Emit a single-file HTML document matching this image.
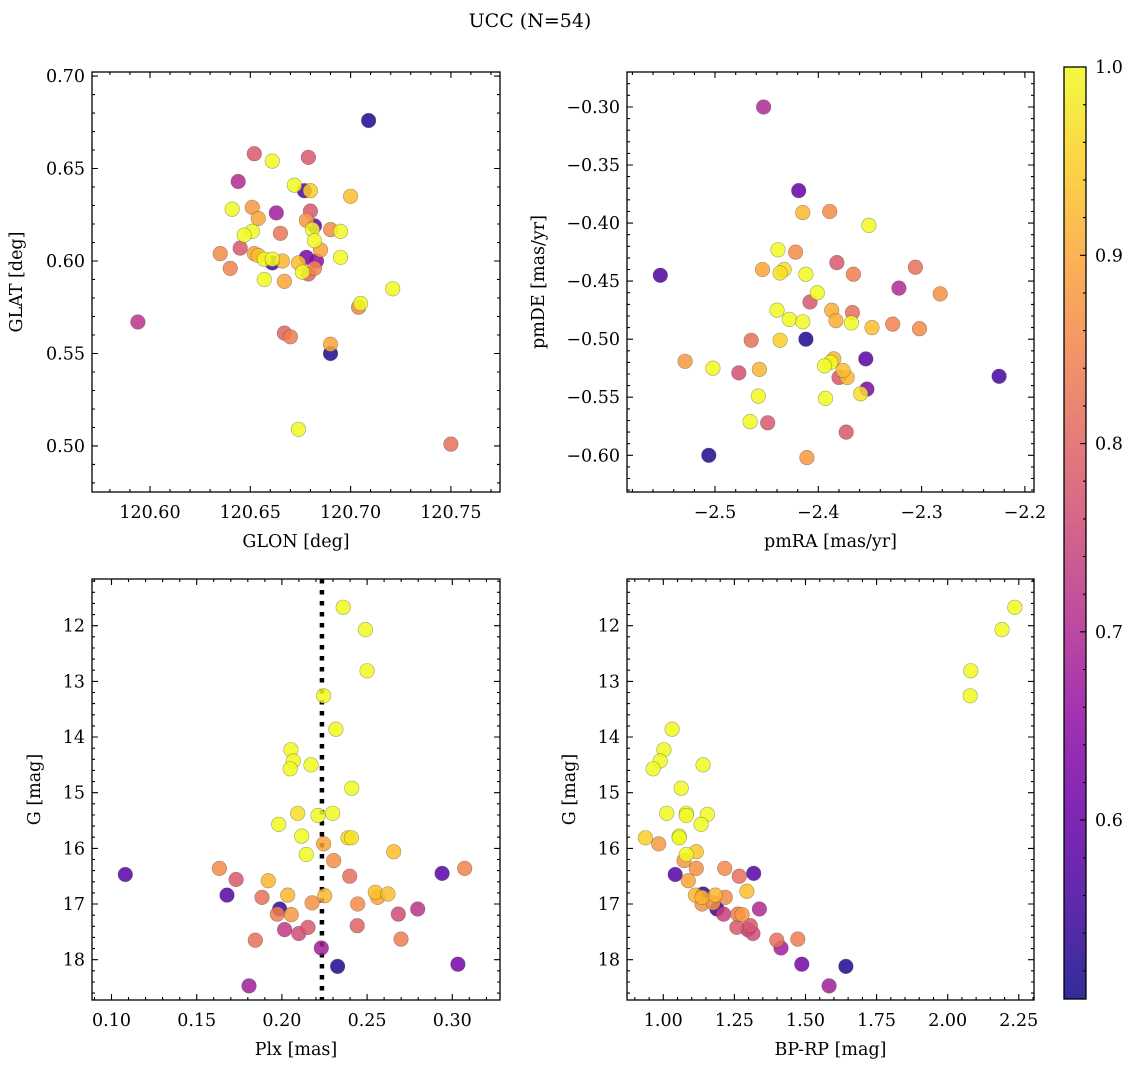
<!DOCTYPE html>
<html><head><meta charset="utf-8"><style>
html,body{margin:0;padding:0;background:#fff;}
svg{display:block;font-family:"DejaVu Serif","Liberation Serif",serif;}
</style></head><body>
<svg id="fig" width="1136" height="1067" viewBox="0 0 1136 1067" xmlns="http://www.w3.org/2000/svg">
<rect width="1136" height="1067" fill="#fff"/>
<text x="530" y="27" font-size="19" text-anchor="middle">UCC (N=54)</text>
</svg>
<script>
// ---- Panel 1: GLON vs GLAT ----
const p1Glon=[120.709,120.652,120.661,120.679,120.644,120.672,120.677,120.680,120.700,120.641,120.651,120.654,120.663,120.680,120.678,120.682,120.681,120.690,120.695,120.665,120.651,120.647,120.682,120.685,120.645,120.635,120.652,120.654,120.657,120.661,120.661,120.666,120.674,120.678,120.683,120.695,120.640,120.682,120.679,120.676,120.657,120.667,120.721,120.705,120.704,120.594,120.667,120.670,120.690,120.690,120.674,120.750];
const p1Glat=[0.676,0.658,0.654,0.656,0.643,0.641,0.638,0.638,0.635,0.628,0.629,0.623,0.626,0.627,0.622,0.619,0.617,0.617,0.616,0.615,0.616,0.614,0.611,0.606,0.607,0.604,0.604,0.603,0.601,0.599,0.601,0.600,0.599,0.602,0.600,0.602,0.596,0.596,0.593,0.594,0.590,0.589,0.585,0.577,0.575,0.567,0.561,0.559,0.555,0.550,0.509,0.501];
const p1Prob=[0.52,0.78,1.0,0.78,0.70,1.0,0.58,0.95,0.93,1.0,0.88,0.90,0.68,0.78,0.88,0.60,1.0,0.86,1.0,0.83,1.0,1.0,1.0,0.90,0.78,0.86,0.90,0.93,1.0,0.56,1.0,0.92,0.93,0.62,0.65,1.0,0.85,0.85,0.80,1.0,1.0,0.90,1.0,1.0,0.85,0.72,0.80,0.84,0.90,0.52,1.0,0.82];
// ---- Panel 2: pmRA vs pmDE ----
const p2Pmra=[-2.453,-2.419,-2.415,-2.389,-2.351,-2.439,-2.422,-2.553,-2.454,-2.433,-2.437,-2.412,-2.382,-2.366,-2.306,-2.322,-2.282,-2.401,-2.408,-2.440,-2.428,-2.415,-2.387,-2.367,-2.383,-2.368,-2.348,-2.328,-2.302,-2.465,-2.437,-2.412,-2.354,-2.529,-2.502,-2.477,-2.457,-2.385,-2.388,-2.394,-2.376,-2.380,-2.372,-2.225,-2.353,-2.359,-2.458,-2.393,-2.466,-2.449,-2.373,-2.506,-2.411];
const p2Pmde=[-0.300,-0.372,-0.391,-0.390,-0.402,-0.423,-0.425,-0.445,-0.440,-0.440,-0.443,-0.444,-0.434,-0.444,-0.438,-0.456,-0.461,-0.460,-0.468,-0.475,-0.483,-0.485,-0.475,-0.477,-0.484,-0.486,-0.490,-0.487,-0.491,-0.501,-0.501,-0.500,-0.517,-0.519,-0.525,-0.529,-0.526,-0.517,-0.520,-0.523,-0.527,-0.533,-0.533,-0.532,-0.543,-0.547,-0.549,-0.551,-0.571,-0.572,-0.580,-0.600,-0.602];
const p2Prob=[0.70,0.60,0.92,0.86,1.0,1.0,0.86,0.57,0.90,0.97,0.97,1.0,0.78,0.84,0.82,0.70,0.87,1.0,0.78,1.0,1.0,1.0,0.91,0.82,0.91,1.0,0.93,0.85,0.86,0.82,0.95,0.52,0.58,0.88,1.0,0.77,0.92,0.92,1.0,1.0,0.93,0.78,0.92,0.56,0.63,0.97,1.0,1.0,1.0,0.78,0.78,0.52,0.88];
// ---- Panel 3: Plx vs G ----
const p3Plx=[0.236,0.249,0.250,0.2245,0.2317,0.2053,0.2067,0.2049,0.2171,0.241,0.2093,0.2212,0.2298,0.1981,0.2116,0.2388,0.2408,0.2245,0.2143,0.2656,0.2304,0.1633,0.1081,0.1731,0.2398,0.294,0.3073,0.192,0.1678,0.1883,0.2034,0.2251,0.2177,0.2548,0.2562,0.2623,0.2445,0.1987,0.1973,0.2055,0.2797,0.2683,0.2442,0.2016,0.2099,0.2153,0.1844,0.2699,0.2231,0.2327,0.3033,0.1807];
const p3G=[11.67,12.07,12.81,13.26,13.86,14.23,14.43,14.57,14.50,14.92,15.37,15.41,15.37,15.57,15.78,15.81,15.81,15.92,16.11,16.06,16.22,16.36,16.47,16.56,16.50,16.45,16.36,16.58,16.84,16.88,16.84,16.85,16.98,16.79,16.88,16.82,17.00,17.09,17.18,17.19,17.09,17.18,17.39,17.46,17.53,17.42,17.65,17.63,17.79,18.12,18.08,18.47];
const p3Prob=[1.0,1.0,1.0,1.0,1.0,1.0,1.0,1.0,1.0,1.0,0.97,1.0,1.0,1.0,1.0,0.96,0.97,0.90,1.0,0.93,0.87,0.86,0.58,0.78,0.82,0.58,0.85,0.92,0.58,0.82,0.92,0.92,0.87,0.93,0.90,0.93,0.86,0.54,0.84,0.88,0.72,0.76,0.80,0.73,0.76,0.78,0.82,0.84,0.68,0.52,0.62,0.68];
const plxLine=0.2235;
// ---- Panel 4: BP-RP vs G ----
const p4Bprp=[2.236,2.191,2.081,2.079,1.031,1.002,0.989,0.964,1.140,1.063,1.012,1.081,1.081,1.155,1.133,0.937,1.056,1.056,0.984,1.116,1.081,1.073,1.116,1.216,1.042,1.267,1.318,1.088,1.294,1.113,1.140,1.136,1.183,1.218,1.136,1.175,1.189,1.212,1.262,1.277,1.338,1.259,1.306,1.297,1.315,1.399,1.473,1.414,1.487,1.642,1.583];
const p4G=[11.67,12.07,12.81,13.26,13.86,14.23,14.43,14.57,14.50,14.92,15.37,15.37,15.41,15.39,15.57,15.81,15.78,15.81,15.92,16.06,16.11,16.22,16.36,16.36,16.47,16.50,16.45,16.58,16.77,16.84,16.82,16.88,16.84,16.88,17.00,16.98,17.09,17.18,17.18,17.19,17.09,17.42,17.39,17.46,17.53,17.65,17.63,17.79,18.08,18.12,18.47];
const p4Prob=[1.0,1.0,1.0,1.0,1.0,1.0,1.0,1.0,1.0,1.0,1.0,1.0,1.0,1.0,1.0,0.95,1.0,1.0,0.88,0.94,1.0,0.88,0.87,0.86,0.58,0.82,0.58,0.90,0.93,0.92,0.54,0.92,0.92,0.86,0.87,0.87,0.54,0.74,0.84,0.88,0.70,0.78,0.78,0.74,0.76,0.82,0.84,0.68,0.62,0.52,0.68];
// ---- ticks ----
const p1XTicks=[120.60,120.65,120.70,120.75];
const p1XLabels=["120.60","120.65","120.70","120.75"];
const p1YTicks=[0.50,0.55,0.60,0.65,0.70];
const p1YLabels=["0.50","0.55","0.60","0.65","0.70"];
const p2XTicks=[-2.5,-2.4,-2.3,-2.2];
const p2XLabels=["\u22122.5","\u22122.4","\u22122.3","\u22122.2"];
const p2YTicks=[-0.60,-0.55,-0.50,-0.45,-0.40,-0.35,-0.30];
const p2YLabels=["\u22120.60","\u22120.55","\u22120.50","\u22120.45","\u22120.40","\u22120.35","\u22120.30"];
const p3XTicks=[0.10,0.15,0.20,0.25,0.30];
const p3XLabels=["0.10","0.15","0.20","0.25","0.30"];
const gTicks=[12,13,14,15,16,17,18];
const gLabels=["12","13","14","15","16","17","18"];
const p4XTicks=[1.00,1.25,1.50,1.75,2.00,2.25];
const p4XLabels=["1.00","1.25","1.50","1.75","2.00","2.25"];
const cbTicks=[0.6,0.7,0.8,0.9,1.0];
const cbLabels=["0.6","0.7","0.8","0.9","1.0"];
const VMIN=0.505, VMAX=1.0;

const NS="http://www.w3.org/2000/svg";
const svg=document.getElementById('fig');
const FS=17.5;
function mk(tag,attrs,parent){const e=document.createElementNS(NS,tag);for(const k in attrs)e.setAttribute(k,attrs[k]);(parent||svg).appendChild(e);return e;}
const plasma=[[13,8,135],[65,4,157],[106,0,168],[143,13,164],[177,42,144],[204,71,120],[225,100,98],[242,132,75],[252,166,54],[252,206,37],[240,249,33]];
function cmap(v){let t=(v-VMIN)/(VMAX-VMIN);t=Math.max(0,Math.min(1,t));const f=t*10;const i=Math.min(9,Math.floor(f));const r=f-i;const a=plasma[i],b=plasma[i+1];
 return `rgb(${Math.round(a[0]+(b[0]-a[0])*r)},${Math.round(a[1]+(b[1]-a[1])*r)},${Math.round(a[2]+(b[2]-a[2])*r)})`;}

function panel(cfg){
 const g=mk('g',{});
 
 
 const {x0,x1,y0,y1,xmin,xmax,ymin,ymax,invY}=cfg;
 const sx=v=>x0+(v-xmin)/(xmax-xmin)*(x1-x0);
 const sy=v=>invY? y0+(v-ymin)/(ymax-ymin)*(y1-y0) : y1-(v-ymin)/(ymax-ymin)*(y1-y0);
 const minorX=[];for(let v=Math.ceil(xmin/cfg.xMinor)*cfg.xMinor;v<=xmax;v+=cfg.xMinor)minorX.push(v);
 const minorY=[];for(let v=Math.ceil(ymin/cfg.yMinor)*cfg.yMinor;v<=ymax;v+=cfg.yMinor)minorY.push(v);
 let d='';
 minorX.forEach(v=>{const x=sx(v).toFixed(1);d+=`M${x} ${y1}v-3M${x} ${y0}v3`;});
 minorY.forEach(v=>{const y=sy(v).toFixed(1);d+=`M${x0} ${y}h3M${x1} ${y}h-3`;});
 cfg.xTicks.forEach(v=>{const x=sx(v).toFixed(1);d+=`M${x} ${y1}v-6M${x} ${y0}v6`;});
 cfg.yTicks.forEach(v=>{const y=sy(v).toFixed(1);d+=`M${x0} ${y}h6M${x1} ${y}h-6`;});
 const tk=mk('path',{d:d,stroke:'#000','stroke-width':1.1,fill:'none'},g);
 
 
 cfg.xTicks.forEach((v,i)=>{const t=mk('text',{x:sx(v),y:y1+26,'font-size':FS,'text-anchor':'middle'},g);t.textContent=cfg.xLabels[i];
  
  });
 cfg.yTicks.forEach((v,i)=>{const t=mk('text',{x:x0-7,y:sy(v)+6,'font-size':FS,'text-anchor':'end'},g);t.textContent=cfg.yLabels[i];
  
  });
 const xt=mk('text',{x:(x0+x1)/2,y:y1+55,'font-size':FS,'text-anchor':'middle'},g);xt.textContent=cfg.xTitle;
 
 
 const yt=mk('text',{x:0,y:0,'font-size':FS,'text-anchor':'middle',transform:`translate(${cfg.yTitleX},${(y0+y1)/2}) rotate(-90)`},g);yt.textContent=cfg.yTitle;
 
 
 if(cfg.vline!==undefined){const l=mk('line',{x1:sx(cfg.vline),x2:sx(cfg.vline),y1:y0,y2:y1,stroke:'#000','stroke-width':4.5,'stroke-dasharray':'4.5 6.5'},g);
  
  }
 const order=cfg.xs.map((_,i)=>i).sort((a,b)=>cfg.cs[a]-cfg.cs[b]);
 order.forEach(i=>{const c=mk('circle',{cx:sx(cfg.xs[i]).toFixed(1),cy:sy(cfg.ys[i]).toFixed(1),r:7.3,fill:cmap(cfg.cs[i]),'fill-opacity':0.85,stroke:'rgba(60,60,60,0.45)','stroke-width':0.6},g);
  
  });
 const fr=mk('rect',{x:x0,y:y0,width:x1-x0,height:y1-y0,fill:'none',stroke:'#000','stroke-width':1.3},g);
 
 
}
panel({name:'glon-glat-panel',x0:92,x1:500,y0:72,y1:492,xmin:120.5711,xmax:120.7745,ymin:0.4751,ymax:0.7022,xMinor:0.01,yMinor:0.01,
 xTicks:p1XTicks,xLabels:p1XLabels,yTicks:p1YTicks,yLabels:p1YLabels,xTitle:'GLON [deg]',yTitle:'GLAT [deg]',yTitleX:22,xs:p1Glon,ys:p1Glat,cs:p1Prob});
panel({name:'pm-panel',x0:627,x1:1034,y0:72,y1:492,xmin:-2.5852,xmax:-2.1912,ymin:-0.6316,ymax:-0.2699,xMinor:0.02,yMinor:0.01,
 xTicks:p2XTicks,xLabels:p2XLabels,yTicks:p2YTicks,yLabels:p2YLabels,xTitle:'pmRA [mas/yr]',yTitle:'pmDE [mas/yr]',yTitleX:544,xs:p2Pmra,ys:p2Pmde,cs:p2Prob});
panel({name:'plx-g-panel',x0:92,x1:500,y0:579,y1:1000,xmin:0.08856,xmax:0.3280,ymin:11.161,ymax:18.724,invY:true,xMinor:0.01,yMinor:0.2,
 xTicks:p3XTicks,xLabels:p3XLabels,yTicks:gTicks,yLabels:gLabels,xTitle:'Plx [mas]',yTitle:'G [mag]',yTitleX:40,xs:p3Plx,ys:p3G,cs:p3Prob,vline:plxLine});
panel({name:'cmd-panel',x0:627,x1:1034,y0:579,y1:1000,xmin:0.8724,xmax:2.3035,ymin:11.161,ymax:18.724,invY:true,xMinor:0.05,yMinor:0.2,
 xTicks:p4XTicks,xLabels:p4XLabels,yTicks:gTicks,yLabels:gLabels,xTitle:'BP-RP [mag]',yTitle:'G [mag]',yTitleX:575,xs:p4Bprp,ys:p4G,cs:p4Prob});

// ---- colorbar ----
const cb=mk('g',{});


const defs=mk('defs',{},cb);
const grad=mk('linearGradient',{id:'plasmaGrad',x1:0,y1:1,x2:0,y2:0},defs);
plasma.forEach((c,i)=>{mk('stop',{offset:(i/10),'stop-color':`rgb(${c[0]},${c[1]},${c[2]})`,'stop-opacity':0.85},grad);});
const cbx0=1064,cbx1=1086,cby0=67,cby1=999;
const cbr=mk('rect',{x:cbx0,y:cby0,width:cbx1-cbx0,height:cby1-cby0,fill:'url(#plasmaGrad)',stroke:'#000','stroke-width':1.3},cb);


const cy=v=>cby1-(v-VMIN)/(VMAX-VMIN)*(cby1-cby0);
let cd='';
for(let v=0.52;v<=1.0001;v+=0.02){cd+=`M${cbx1} ${cy(v).toFixed(1)}h-3`;}
cbTicks.forEach(v=>{cd+=`M${cbx1} ${cy(v).toFixed(1)}h-6`;});
const cbt=mk('path',{d:cd,stroke:'#000','stroke-width':1.1},cb);


cbTicks.forEach((v,i)=>{const t=mk('text',{x:cbx1+9,y:cy(v)+6,'font-size':FS},cb);t.textContent=cbLabels[i];
 
 });
</script>
</body></html>
